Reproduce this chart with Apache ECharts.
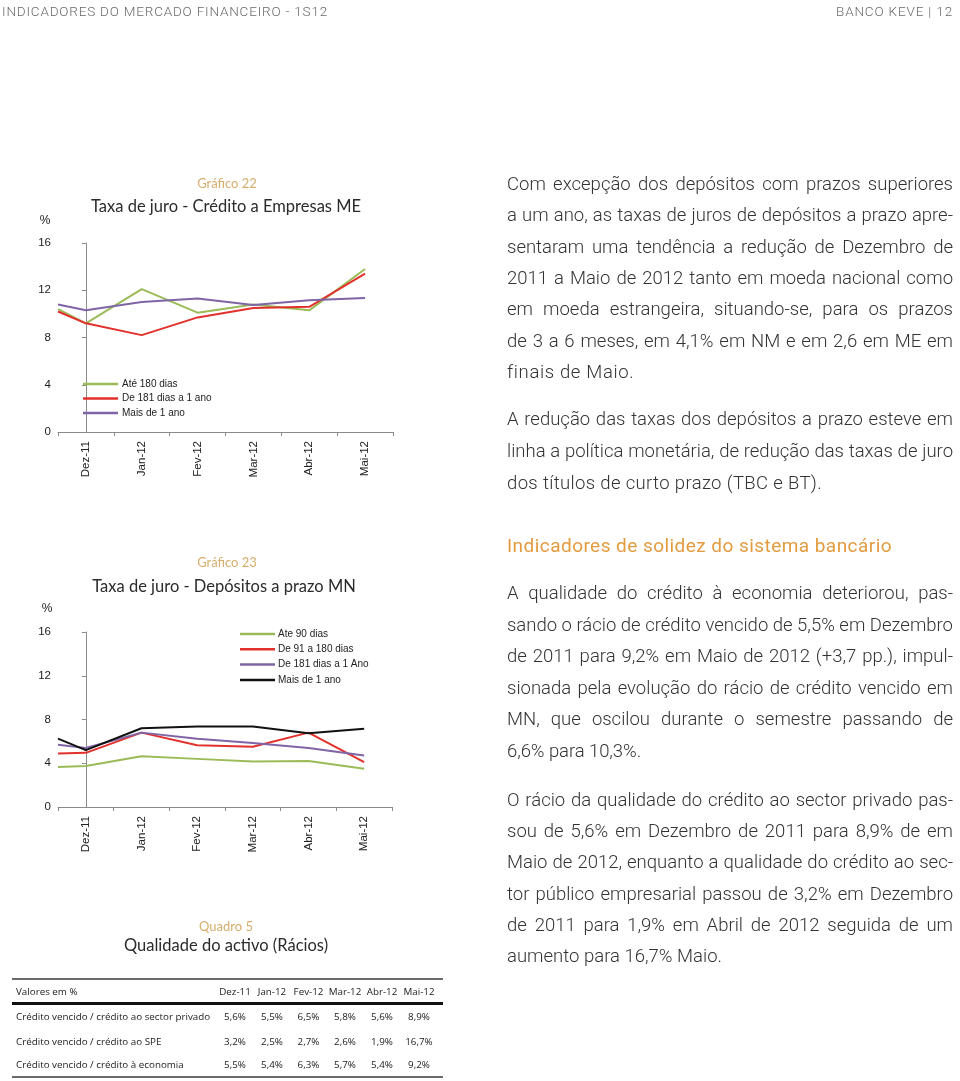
<!DOCTYPE html>
<html><head><meta charset="utf-8">
<script src="https://cdn.jsdelivr.net/npm/echarts@6/dist/echarts.min.js"></script>
<style>
html,body{margin:0;padding:0;background:#fff;}
#page{position:relative;width:960px;height:1081px;overflow:hidden;background:#fff;}
#chart{position:absolute;left:0;top:0;width:960px;height:1081px;}
.ln{position:absolute;white-space:nowrap;font-family:Roboto,'Helvetica Neue',Arial,sans-serif;font-weight:300;color:#333;font-size:18.5px;line-height:24px;height:24px;}
.hd{position:absolute;white-space:nowrap;font-family:Roboto,Arial,sans-serif;font-weight:300;color:#6a6a6a;font-size:13.5px;line-height:18px;height:18px;}
.tb{position:absolute;white-space:nowrap;font-family:'Open Sans',Arial,sans-serif;color:#222;font-size:9.8px;line-height:14px;height:14px;}
.rule{position:absolute;left:12px;width:431px;}
</style>
</head><body>
<div id="page">
<div id="chart"></div>
<div id="txt"></div>
</div>
<script>
// ---- chart data ----
const categories = ['Dez-11','Jan-12','Fev-12','Mar-12','Abr-12','Mai-12'];
const yTicks = [0, 4, 8, 12, 16];
// first value of each series is the start point drawn at the left edge of the axis
const g22Names = ['Até 180 dias','De 181 dias a 1 ano','Mais de 1 ano'];
const g22Ate180 = [10.4, 9.2, 12.1, 10.1, 10.8, 10.3, 13.8];
const g22De181  = [10.2, 9.2, 8.2, 9.7, 10.5, 10.6, 13.4];
const g22Mais1  = [10.8, 10.3, 11.0, 11.3, 10.75, 11.15, 11.35];

const g23Names = ['Ate 90 dias','De 91 a 180 dias','De 181 dias a 1 Ano','Mais de 1 ano'];
const g23Ate90  = [3.65, 3.75, 4.65, 4.4, 4.15, 4.2, 3.5];
const g23De91   = [4.9, 4.95, 6.8, 5.65, 5.5, 6.8, 4.1];
const g23De181  = [5.7, 5.4, 6.8, 6.25, 5.85, 5.4, 4.7];
const g23Mais1  = [6.25, 5.2, 7.2, 7.35, 7.35, 6.75, 7.15];

// ---- table data (Quadro 5) ----
const tableHeader = 'Valores em %';
const rowLabels = ['Crédito vencido / crédito ao sector privado','Crédito vencido / crédito ao SPE','Crédito vencido / crédito à economia'];
const rowPrivado  = [5.6, 5.5, 6.5, 5.8, 5.6, 8.9];
const rowSPE      = [3.2, 2.5, 2.7, 2.6, 1.9, 16.7];
const rowEconomia = [5.5, 5.4, 6.3, 5.7, 5.4, 9.2];

// ---- page text ----
const headerLeft = 'INDICADORES DO MERCADO FINANCEIRO - 1S12';
const headerRight = 'BANCO KEVE | 12';
const para1 = [
 ['Com excepção dos depósitos com prazos superiores',1],
 ['a um ano, as taxas de juros de depósitos a prazo apre-',1],
 ['sentaram uma tendência a redução de Dezembro de',1],
 ['2011 a Maio de 2012 tanto em moeda nacional como',1],
 ['em moeda estrangeira, situando-se, para os prazos',1],
 ['de 3 a 6 meses, em 4,1% em NM e em 2,6 em ME em',1],
 ['finais de Maio.',0]
];
const para2 = [
 ['A redução das taxas dos depósitos a prazo esteve em',1],
 ['linha a política monetária, de redução das taxas de juro',1],
 ['dos títulos de curto prazo (TBC e BT).',0]
];
const heading = 'Indicadores de solidez do sistema bancário';
const para3 = [
 ['A qualidade do crédito à economia deteriorou, pas-',1],
 ['sando o rácio de crédito vencido de 5,5% em Dezembro',1],
 ['de 2011 para 9,2% em Maio de 2012 (+3,7 pp.), impul-',1],
 ['sionada pela evolução do rácio de crédito vencido em',1],
 ['MN, que oscilou durante o semestre passando de',1],
 ['6,6% para 10,3%.',0]
];
const para4 = [
 ['O rácio da qualidade do crédito ao sector privado pas-',1],
 ['sou de 5,6% em Dezembro de 2011 para 8,9% de em',1],
 ['Maio de 2012, enquanto a qualidade do crédito ao sec-',1],
 ['tor público empresarial passou de 3,2% em Dezembro',1],
 ['de 2011 para 1,9% em Abril de 2012 seguida de um',1],
 ['aumento para 16,7% Maio.',0]
];

// ---------- HTML text layout ----------
const txt = document.getElementById('txt');
function addLine(cls, text, x, yc, h, opts) {
  const d = document.createElement('div');
  d.className = cls;
  d.textContent = text;
  d.style.left = x + 'px';
  d.style.top = (yc - h/2) + 'px';
  if (opts && opts.color) d.style.color = opts.color;
  if (opts && opts.weight) d.style.fontWeight = opts.weight;
  if (opts && opts.size) d.style.fontSize = opts.size + 'px';
  txt.appendChild(d);
  return d;
}
function fitWidth(el, target, useWords) {
  const nat = el.getBoundingClientRect().width;
  const diff = target - nat;
  const spaces = (el.textContent.match(/ /g) || []).length;
  if (useWords && diff > 0 && spaces > 0) el.style.wordSpacing = (diff / spaces) + 'px';
  else el.style.letterSpacing = (diff / el.textContent.length) + 'px';
}
const TX = 507, TW = 446;
function addPara(lines, y0, step, lastWidth) {
  lines.forEach((l, i) => {
    const el = addLine('ln', l[0], TX, y0 + i * step, 24);
    if (l[1]) fitWidth(el, TW, true);
    else if (lastWidth) fitWidth(el, lastWidth, false);
  });
}
addPara(para1, 184, 31.3, 127);
addPara(para2, 418.5, 32.3, 315);
addLine('ln', heading, TX, 546, 24, {color:'#e39b3f', weight:400, size:19});
fitWidth(txt.lastChild, 385, false);
addPara(para3, 593, 31.6, 134);
addPara(para4, 800, 31.2, 215);

const hl = addLine('hd', headerLeft, 2, 11, 18);
fitWidth(hl, 326, false);
const hr = addLine('hd', headerRight, 836, 11, 18);
fitWidth(hr, 117, false);

// table
function rule(y, h, color) {
  const d = document.createElement('div');
  d.className = 'rule';
  d.style.top = y + 'px'; d.style.height = h + 'px'; d.style.background = color;
  txt.appendChild(d);
}
rule(978, 2, '#6b6b6b');
rule(1002, 3, '#111');
rule(1076, 2, '#6b6b6b');
const colCx = [235, 272, 308.5, 345, 382, 419];
function addCell(text, cx, yc) {
  const d = addLine('tb', text, 0, yc, 14);
  const w = d.getBoundingClientRect().width;
  d.style.left = (cx - w/2) + 'px';
}
addLine('tb', tableHeader, 16, 992, 14);
categories.forEach((c, i) => addCell(c, colCx[i], 992));
const fmt = v => v.toFixed(1).replace('.', ',') + '%';
[rowPrivado, rowSPE, rowEconomia].forEach((row, r) => {
  const yc = [1017, 1042, 1065][r];
  addLine('tb', rowLabels[r], 16, yc, 14);
  row.forEach((v, i) => addCell(fmt(v), colCx[i], yc));
});

// ---------- ECharts ----------
const chart = echarts.init(document.getElementById('chart'));
const COLORS = { green:'#9bbb59', red:'#e2312d', purple:'#7f65a6', black:'#111111' };
const g22Colors = [COLORS.green, COLORS.red, COLORS.purple];
const g23Colors = [COLORS.green, COLORS.red, COLORS.purple, COLORS.black];
const pts = vals => vals.map((v, i) => [i === 0 ? -0.5 : i - 1, v]);
const axisColor = '#8a8a8a';
const labelFont = { fontSize: 11.5, color: '#222', fontFamily: 'Arial, Liberation Sans, sans-serif' };

function catAxis(gi) {
  return { type:'category', gridIndex:gi, data:categories, boundaryGap:true,
    axisLine:{ show:true, lineStyle:{ color:axisColor, width:1 } },
    axisTick:{ show:true, length:4, alignWithLabel:false, lineStyle:{ color:axisColor } },
    axisLabel:Object.assign({ rotate:90, margin:9, interval:0 }, labelFont),
    splitLine:{ show:false } };
}
function posAxis(gi) {
  return { type:'value', gridIndex:gi, min:-0.5, max:categories.length - 0.5, show:false };
}
function valAxis(gi) {
  return { type:'value', gridIndex:gi, min:yTicks[0], max:yTicks[yTicks.length-1], interval:yTicks[1]-yTicks[0],
    axisLine:{ show:true, lineStyle:{ color:axisColor, width:1 } },
    axisTick:{ show:true, length:4, lineStyle:{ color:axisColor } },
    axisLabel:Object.assign({ margin:7 }, labelFont),
    splitLine:{ show:false } };
}
function line(name, vals, color, xi, yi) {
  return { type:'line', name, data:pts(vals), xAxisIndex:xi, yAxisIndex:yi,
    showSymbol:false, symbol:'none', lineStyle:{ width:2, color }, itemStyle:{ color }, silent:true, animation:false };
}
function gtext(text, x, y, size, color, family, weight) {
  return { type:'text', x, y, silent:true, style:{ text, fill:color, align:'center', verticalAlign:'middle',
    font:(weight||'normal') + ' ' + size + 'px ' + family } };
}
const legendData = (names, colors) => names.map((n, i) => ({ name:n, itemStyle:{ color:colors[i] } }));
const titleFamily = 'Lato, "Open Sans", sans-serif';
const gold = '#d6ad6c';

chart.setOption({
  animation:false,
  grid:[
    { left:58, top:243, width:335, height:189 },
    { left:58, top:632, width:334, height:175 }
  ],
  xAxis:[ catAxis(0), posAxis(0), catAxis(1), posAxis(1) ],
  yAxis:[ valAxis(0), valAxis(1) ],
  legend:[
    { data:legendData(g22Names, g22Colors), left:78, top:373, orient:'vertical', icon:'rect', itemWidth:35, itemHeight:2.5, itemGap:2.5,
      textStyle:{ fontSize:10, lineHeight:12, color:'#222', fontFamily:'Arial, sans-serif', padding:[0,0,0,-1] }, selectedMode:false },
    { data:legendData(g23Names, g23Colors), left:235, top:623, orient:'vertical', icon:'rect', itemWidth:35, itemHeight:2.5, itemGap:3.3,
      textStyle:{ fontSize:10, lineHeight:12, color:'#222', fontFamily:'Arial, sans-serif', padding:[0,0,0,-2] }, selectedMode:false }
  ],
  series:[
    line(g22Names[0], g22Ate180, COLORS.green, 1, 0),
    line(g22Names[1], g22De181, COLORS.red, 1, 0),
    line(g22Names[2], g22Mais1, COLORS.purple, 1, 0),
    line(g23Names[0], g23Ate90, COLORS.green, 3, 1),
    line(g23Names[1], g23De91, COLORS.red, 3, 1),
    line(g23Names[2], g23De181, COLORS.purple, 3, 1),
    line(g23Names[3], g23Mais1, COLORS.black, 3, 1)
  ],
  graphic:[
    gtext('Gráfico 22', 227, 184, 13, gold, titleFamily),
    gtext('Taxa de juro - Crédito a Empresas ME', 226, 207, 16.5, '#2b2b2b', titleFamily),
    gtext('%', 45, 221, 12, '#222', 'Arial, sans-serif'),
    gtext('Gráfico 23', 227, 563, 13, gold, titleFamily),
    gtext('Taxa de juro - Depósitos a prazo MN', 224, 587, 16.5, '#2b2b2b', titleFamily),
    gtext('%', 47, 609, 12, '#222', 'Arial, sans-serif'),
    gtext('Quadro 5', 226, 927, 13, gold, titleFamily),
    gtext('Qualidade do activo (Rácios)', 226, 946, 16.5, '#2b2b2b', titleFamily)
  ]
});
</script>
</body></html>
